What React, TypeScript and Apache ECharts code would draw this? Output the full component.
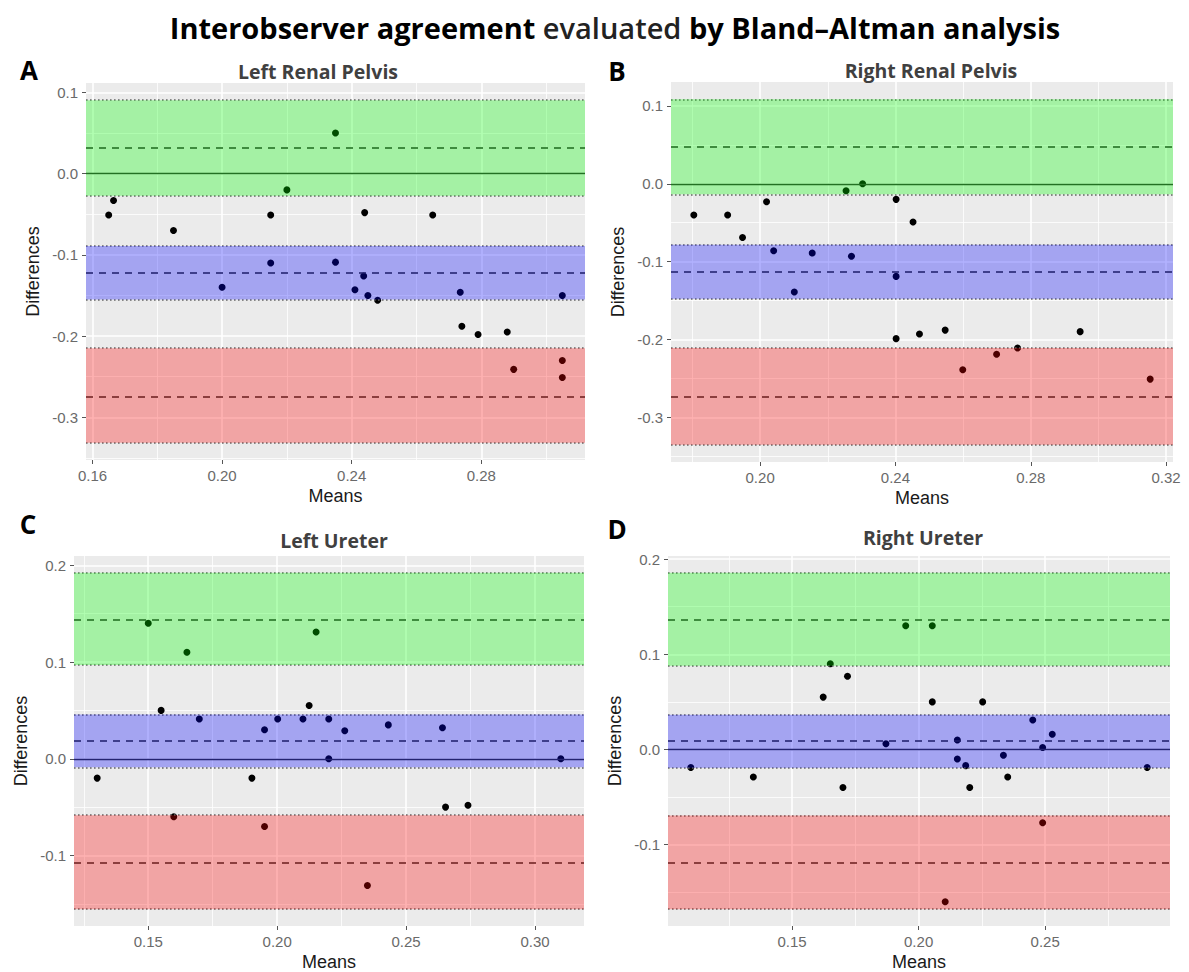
import React, { useEffect, useRef } from 'react';
import * as echarts from 'echarts';

// ---------- texts ----------
const TITLE_PARTS = ['Interobserver agreement', 'evaluated', 'by Bland–Altman analysis'];
const panelLetters = ['A', 'B', 'C', 'D'];
const panelTitles = ['Left Renal Pelvis', 'Right Renal Pelvis', 'Left Ureter', 'Right Ureter'];
const xAxisTitle = 'Means';
const yAxisTitle = 'Differences';

// ---------- data: A Left Renal Pelvis ----------
const leftPelvisMeans = [0.165, 0.1665, 0.185, 0.2, 0.215, 0.215, 0.22, 0.235, 0.235, 0.241, 0.2437, 0.244, 0.245, 0.248, 0.265, 0.2735, 0.274, 0.279, 0.288, 0.29, 0.305, 0.305, 0.305];
const leftPelvisDiffs = [-0.051, -0.033, -0.07, -0.14, -0.051, -0.11, -0.02, 0.05, -0.109, -0.143, -0.126, -0.048, -0.15, -0.156, -0.051, -0.146, -0.188, -0.198, -0.195, -0.241, -0.15, -0.23, -0.251];
// [lower CI, estimate, upper CI]
const leftPelvisUpperLoA = [-0.0272, 0.0313, 0.0905];
const leftPelvisBias = [-0.155, -0.122, -0.089];
const leftPelvisLowerLoA = [-0.3315, -0.275, -0.215];

// ---------- data: B Right Renal Pelvis ----------
const rightPelvisMeans = [0.1804, 0.1904, 0.1948, 0.2019, 0.204, 0.2101, 0.2154, 0.2254, 0.227, 0.2303, 0.2402, 0.2402, 0.2402, 0.2452, 0.2471, 0.2547, 0.2599, 0.2699, 0.2761, 0.2946, 0.3153];
const rightPelvisDiffs = [-0.04, -0.04, -0.069, -0.023, -0.086, -0.139, -0.089, -0.009, -0.093, 0.0, -0.02, -0.119, -0.199, -0.049, -0.193, -0.188, -0.239, -0.219, -0.211, -0.19, -0.251];
const rightPelvisUpperLoA = [-0.0136, 0.0473, 0.1086];
const rightPelvisBias = [-0.1478, -0.1129, -0.0784];
const rightPelvisLowerLoA = [-0.3353, -0.2735, -0.2109];

// ---------- data: C Left Ureter ----------
const leftUreterMeans = [0.1302, 0.15, 0.155, 0.1599, 0.165, 0.1698, 0.1902, 0.1951, 0.1951, 0.2002, 0.21, 0.2124, 0.2151, 0.22, 0.22, 0.2262, 0.235, 0.2431, 0.2641, 0.2653, 0.274, 0.31];
const leftUreterDiffs = [-0.02, 0.14, 0.05, -0.06, 0.11, 0.041, -0.02, 0.03, -0.07, 0.041, 0.041, 0.055, 0.131, 0.041, 0.0, 0.029, -0.131, 0.035, 0.032, -0.05, -0.048, 0.0];
const leftUreterUpperLoA = [0.0968, 0.1442, 0.1922];
const leftUreterBias = [-0.0089, 0.0185, 0.0457];
const leftUreterLowerLoA = [-0.1555, -0.1078, -0.0584];

// ---------- data: D Right Ureter ----------
const rightUreterMeans = [0.11, 0.1347, 0.1623, 0.1651, 0.1701, 0.1719, 0.1871, 0.1949, 0.2054, 0.2054, 0.2105, 0.2153, 0.2153, 0.2186, 0.2202, 0.2253, 0.2335, 0.2352, 0.2451, 0.249, 0.249, 0.2528, 0.2903];
const rightUreterDiffs = [-0.019, -0.029, 0.055, 0.09, -0.04, 0.077, 0.006, 0.13, 0.13, 0.05, -0.16, 0.01, -0.01, -0.017, -0.04, 0.05, -0.006, -0.029, 0.031, 0.002, -0.077, 0.016, -0.019];
const rightUreterUpperLoA = [0.0879, 0.1367, 0.1856];
const rightUreterBias = [-0.0192, 0.0091, 0.0366];
const rightUreterLowerLoA = [-0.1678, -0.1189, -0.0694];

// ---------- tick labels ----------
const xTicksA = [0.16, 0.2, 0.24, 0.28];
const xTicksB = [0.2, 0.24, 0.28, 0.32];
const xTicksC = [0.15, 0.2, 0.25, 0.3];
const xTicksD = [0.15, 0.2, 0.25];
const yTicksPelvis = [0.1, 0.0, -0.1, -0.2, -0.3];
const yTicksUreter = [0.2, 0.1, 0.0, -0.1];
const xStepPelvis = 0.04;
const xStepUreter = 0.05;
const yStep = 0.1;

const panels = [
  { means: leftPelvisMeans, diffs: leftPelvisDiffs, upper: leftPelvisUpperLoA, bias: leftPelvisBias, lower: leftPelvisLowerLoA, xTicks: xTicksA, yTicks: yTicksPelvis, xStep: xStepPelvis },
  { means: rightPelvisMeans, diffs: rightPelvisDiffs, upper: rightPelvisUpperLoA, bias: rightPelvisBias, lower: rightPelvisLowerLoA, xTicks: xTicksB, yTicks: yTicksPelvis, xStep: xStepPelvis },
  { means: leftUreterMeans, diffs: leftUreterDiffs, upper: leftUreterUpperLoA, bias: leftUreterBias, lower: leftUreterLowerLoA, xTicks: xTicksC, yTicks: yTicksUreter, xStep: xStepUreter },
  { means: rightUreterMeans, diffs: rightUreterDiffs, upper: rightUreterUpperLoA, bias: rightUreterBias, lower: rightUreterLowerLoA, xTicks: xTicksD, yTicks: yTicksUreter, xStep: xStepUreter },
];

// ---------- layout (pixels) ----------
const layouts = [
  { left: 86, top: 83, width: 499, height: 377, letter: [29, 70], title: [318, 71] },
  { left: 671, top: 82, width: 502, height: 380, letter: [617, 71], title: [931, 70] },
  { left: 74, top: 556, width: 510, height: 370, letter: [28, 524], title: [334, 540] },
  { left: 668, top: 556, width: 502, height: 370, letter: [617, 529], title: [923, 537] },
];

const AXIS_FONT = '"Liberation Sans", Arial, sans-serif';
const TITLE_FONT = '"Open Sans", "Noto Sans", sans-serif';
const BAND_COLORS = ['rgba(0,255,0,0.3)', 'rgba(0,0,255,0.3)', 'rgba(255,0,0,0.3)'];

function expand(vals: number[]): [number, number] {
  const lo = Math.min(...vals);
  const hi = Math.max(...vals);
  const pad = (hi - lo) * 0.05;
  return [lo - pad, hi + pad];
}

function buildOption() {
  const grids: any[] = [];
  const xAxes: any[] = [];
  const yAxes: any[] = [];
  const series: any[] = [];
  const graphics: any[] = [];

  panels.forEach((p, i) => {
    const l = layouts[i];
    const xr = expand(p.means);
    const yr = expand([...p.diffs, ...p.upper, ...p.bias, ...p.lower, 0]);
    grids.push({ left: l.left, top: l.top, width: l.width, height: l.height, show: true, backgroundColor: '#EBEBEB', borderWidth: 0 });
    xAxes.push({
      type: 'value', gridIndex: i, min: xr[0], max: xr[1], minInterval: p.xStep, maxInterval: p.xStep,
      name: xAxisTitle, nameLocation: 'middle', nameGap: 27,
      nameTextStyle: { fontSize: 18, color: '#1a1a1a', fontFamily: AXIS_FONT },
      axisLine: { show: false, onZero: false },
      axisTick: { show: true, length: 4, lineStyle: { color: '#555', width: 1 }, customValues: p.xTicks },
      axisLabel: { customValues: p.xTicks, margin: 8, fontSize: 15, color: '#6a6a6a', fontFamily: AXIS_FONT, formatter: (v: number) => v.toFixed(2) },
      splitLine: { show: true, lineStyle: { color: '#ffffff', width: 1.6 } },
      minorTick: { show: false, splitNumber: 2 },
      minorSplitLine: { show: true, lineStyle: { color: '#ffffff', width: 0.8 } },
    });
    yAxes.push({
      type: 'value', gridIndex: i, min: yr[0], max: yr[1], minInterval: yStep, maxInterval: yStep,
      name: yAxisTitle, nameLocation: 'middle', nameGap: 44, nameRotate: 90,
      nameTextStyle: { fontSize: 18, color: '#1a1a1a', fontFamily: AXIS_FONT },
      axisLine: { show: false, onZero: false },
      axisTick: { show: true, length: 4, lineStyle: { color: '#555', width: 1 }, customValues: p.yTicks },
      axisLabel: { customValues: p.yTicks, margin: 8, fontSize: 15, color: '#6a6a6a', fontFamily: AXIS_FONT, formatter: (v: number) => v.toFixed(1) },
      splitLine: { show: true, lineStyle: { color: '#ffffff', width: 1.6 } },
      minorTick: { show: false, splitNumber: 2 },
      minorSplitLine: { show: true, lineStyle: { color: '#ffffff', width: 0.8 } },
    });
    const bands = [p.upper, p.bias, p.lower];
    const lineData: any[] = [{ yAxis: 0, lineStyle: { type: 'solid', color: '#333', width: 1.4 } }];
    bands.forEach((b) => {
      lineData.push({ yAxis: b[1], lineStyle: { type: [7, 6], color: '#2a2a2a', width: 1.6 } });
      lineData.push({ yAxis: b[0], lineStyle: { type: [1.6, 2.4], color: '#666', width: 1.7 } });
      lineData.push({ yAxis: b[2], lineStyle: { type: [1.6, 2.4], color: '#666', width: 1.7 } });
    });
    series.push({
      type: 'scatter', xAxisIndex: i, yAxisIndex: i, z: 2, silent: true,
      data: p.means.map((m, k) => [m, p.diffs[k]]),
      symbol: 'circle', symbolSize: 7, itemStyle: { color: '#000', opacity: 1 },
      markLine: { z: 3, precision: 5, silent: true, symbol: ['none', 'none'], label: { show: false }, data: lineData },
      markArea: {
        z: 4, precision: 5, silent: true, label: { show: false },
        data: bands.map((b, k) => [{ yAxis: b[0], itemStyle: { color: BAND_COLORS[k] } }, { yAxis: b[2] }]),
      },
    });
    graphics.push({ type: 'text', x: l.letter[0], y: l.letter[1], style: { text: panelLetters[i], font: `bold 26px ${TITLE_FONT}`, fill: '#000', textAlign: 'center', textVerticalAlign: 'middle' } });
    graphics.push({ type: 'text', x: l.title[0], y: l.title[1], style: { text: panelTitles[i], font: `bold 19.5px ${TITLE_FONT}`, fill: '#404040', textAlign: 'center', textVerticalAlign: 'middle' } });
  });

  graphics.push({
    type: 'text', x: 615, y: 27,
    style: {
      text: `{b|${TITLE_PARTS[0]}} {n|${TITLE_PARTS[1]}} {b|${TITLE_PARTS[2]}}`,
      textAlign: 'center', textVerticalAlign: 'middle',
      rich: {
        b: { fontFamily: TITLE_FONT, fontWeight: 'bold', fontSize: 29, fill: '#000', color: '#000' },
        n: { fontFamily: TITLE_FONT, fontWeight: 600, fontSize: 29, fill: '#222', color: '#222' },
      },
      font: `bold 29px ${TITLE_FONT}`,
    },
  });

  return {
    animation: false,
    backgroundColor: '#ffffff',
    grid: grids,
    xAxis: xAxes,
    yAxis: yAxes,
    series,
    graphic: graphics,
  };
}

export default function App() {
  const ref = useRef<HTMLDivElement>(null);
  useEffect(() => {
    if (!ref.current) return;
    const chart = echarts.init(ref.current, null, { renderer: 'svg' });
    chart.setOption(buildOption() as any);
    return () => chart.dispose();
  }, []);
  return <div ref={ref} style={{ position: 'absolute', left: 0, top: 0, width: 1189, height: 972 }} />;
}
